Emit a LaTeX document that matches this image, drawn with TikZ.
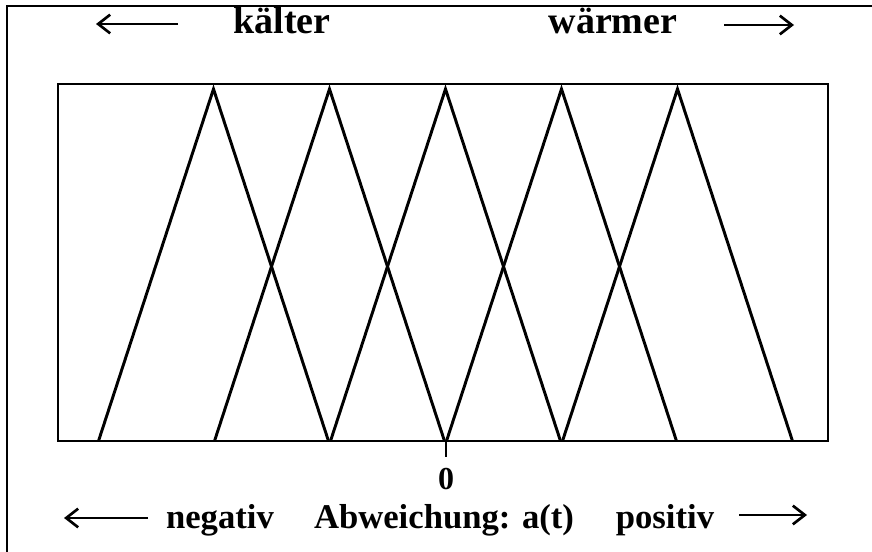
\documentclass[tikz,border=0pt]{standalone}
\usepackage{fontspec}
\setmainfont{Liberation Serif}
\usetikzlibrary{arrows.meta}

\begin{document}
\begin{tikzpicture}[
        x = 0.75pt, y = -0.75pt,
        >= {Straight Barb[length = 9pt, width = 14pt, line width = 2pt]},
        lbl/.style = {anchor = base, inner sep = 0pt, font = \fontsize{26}{30}\selectfont\bfseries},
        big lbl/.style = {lbl, font = \fontsize{28.5}{32}\selectfont\bfseries},
        dir arrow/.style = {->, line width = 1.9pt},
        tri/.style = {line width = 2.2pt, line join = miter},
        frame/.style = {line width = 1.1pt}
    ]

        \useasboundingbox (0,0) rectangle (872,552);

        % scan border (left and top only)
        \draw[line width = 1.5pt] (7,552) -- (7,6) -- (872,6);

        % plot area
        \draw[frame] (58,84) rectangle (828,441);

        % membership triangles
        \foreach \i in {0,...,4} {
            \pgfmathsetmacro{\c}{213.5+116*\i}
            \coordinate (l\i) at (\c-115,441);
            \coordinate (p\i) at (\c,89);
            \coordinate (r\i) at (\c+115,441);
            \draw[tri] (l\i) -- (p\i) -- (r\i);
        }

        % zero mark
        \coordinate (z) at (446,441);
        \coordinate (zt) at (446,457);
        \draw[line width = 1.6pt] (z) -- (zt);
        \node[lbl, font = \fontsize{24}{28}\selectfont\bfseries] (zero) at (446,489) {0};

        % top labels
        \node[big lbl] (kalt) at (282,34) {kälter};
        \node[big lbl] (warm) at (613,34) {wärmer};
        \coordinate (ka) at (178,24);
        \coordinate (kb) at (96,24);
        \coordinate (wa) at (724,25);
        \coordinate (wb) at (794,25);
        \draw[dir arrow] (ka) -- (kb);
        \draw[dir arrow] (wa) -- (wb);

        % bottom labels
        \node[lbl] (neg) at (220,528) {negativ};
        \node[lbl] (abw) at (444,528) {Abweichung: a(t)};
        \node[lbl] (pos) at (665,528) {positiv};
        \coordinate (na) at (148,518);
        \coordinate (nb) at (64,518);
        \coordinate (pa) at (739,515);
        \coordinate (pb) at (807,515);
        \draw[dir arrow] (na) -- (nb);
        \draw[dir arrow] (pa) -- (pb);

    \end{tikzpicture}
\end{document}
